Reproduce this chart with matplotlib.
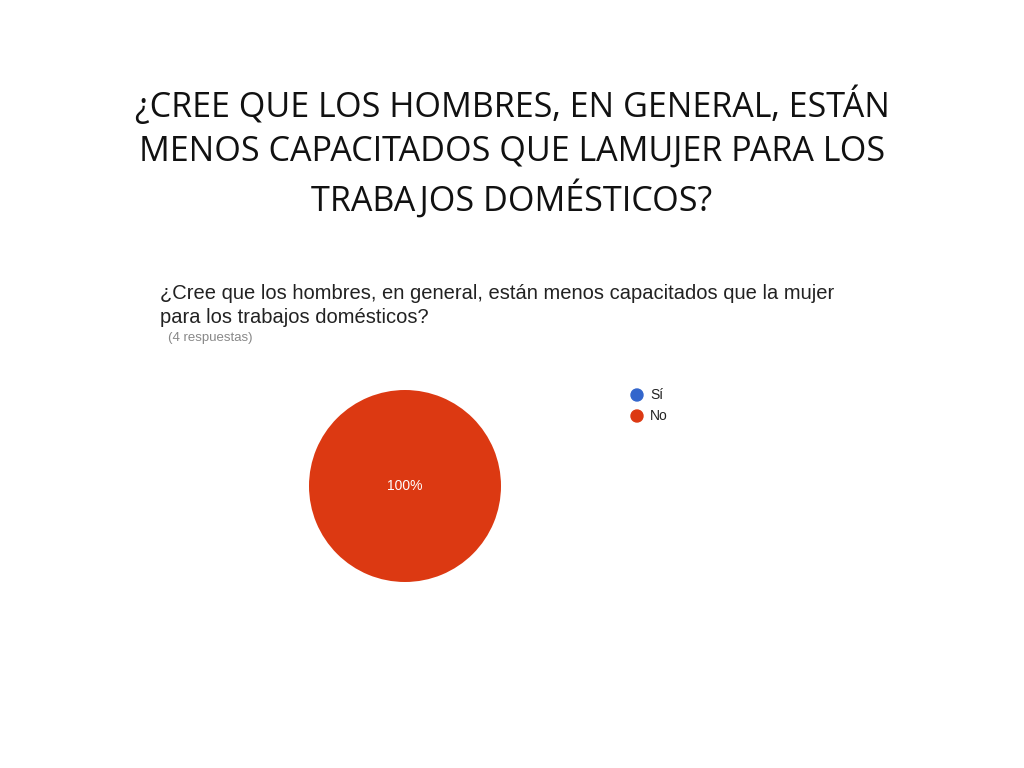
import matplotlib.pyplot as plt
from matplotlib.patches import Ellipse

# data
categories = ["Sí", "No"]
counts = [0, 4]
colors = ["#3366CC", "#DC3912"]
slide_title = ["¿CREE QUE LOS HOMBRES, EN GENERAL, ESTÁN",
               "MENOS CAPACITADOS QUE LAMUJER PARA LOS",
               "TRABAJOS DOMÉSTICOS?"]
chart_title = ["¿Cree que los hombres, en general, están menos capacitados que la mujer",
               "para los trabajos domésticos?"]
n_resp = "(4 respuestas)"

W, H = 1024, 768
fig = plt.figure(figsize=(W / 100, H / 100), dpi=100)
fig.patch.set_facecolor("white")


def px(x, y):
    return x / W, 1 - y / H


for i, line in enumerate(slide_title):
    fig.text(*px(512, 105 + i * 47), line, ha="center", va="center", fontsize=24.5,
             family="Open Sans", color="#111111")
for i, line in enumerate(chart_title):
    fig.text(*px(160, 293 + i * 24), line, ha="left", va="center", fontsize=14.5,
             family="Liberation Sans", color="#222222")
fig.text(*px(168, 338), n_resp, ha="left", va="center", fontsize=9.5,
         family="Liberation Sans", color="#888888")

# pie
cx, cy, r = 405, 486, 96
ax = fig.add_axes([(cx - r) / W, (H - cy - r) / H, 2 * r / W, 2 * r / H])
wedges, texts, autotexts = ax.pie(
    counts, colors=colors, startangle=90, counterclock=False, radius=1,
    autopct=lambda p: f"{p:.0f}%" if p > 0 else "", pctdistance=0,
    textprops=dict(color="white", fontsize=10, family="Liberation Sans"))
ax.set_xlim(-1, 1)
ax.set_ylim(-1, 1)
ax.axis("off")

# legend
for i, (lab, col) in enumerate(zip(categories, colors)):
    y = 395 + i * 21
    fig.patches.append(Ellipse(px(637, y), 12 / W, 12 / H, transform=fig.transFigure,
                               color=col, figure=fig))
    fig.text(*px(650, y), lab, ha="left", va="center", fontsize=10,
             family="Liberation Sans", color="#222222")

fig.savefig("out.png", dpi=100)
